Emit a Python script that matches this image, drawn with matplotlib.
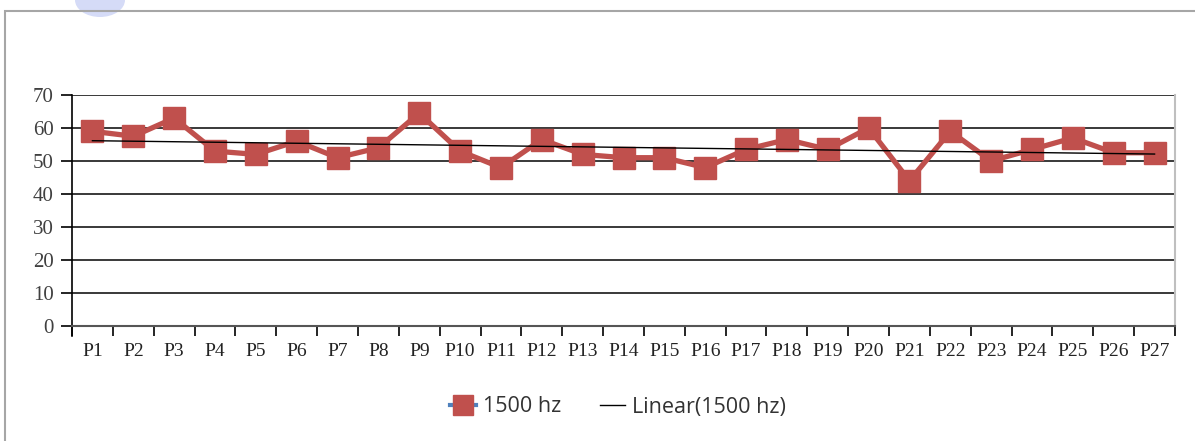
import numpy as np
import matplotlib
matplotlib.use('Agg')
import matplotlib.pyplot as plt
from matplotlib.lines import Line2D
from matplotlib.patches import Rectangle, Ellipse

# data
labels = ['P%d' % i for i in range(1, 28)]
values_1500 = [59, 57.5, 63, 53, 52, 56, 51, 54, 64.5, 53, 48, 56.5, 52, 51, 51,
               48, 53.5, 56.5, 53.5, 60, 44, 59, 50, 53.5, 57, 52.5, 52.5]
y_ticks = [0, 10, 20, 30, 40, 50, 60, 70]

red = '#C0504D'
serif = ['Liberation Serif', 'DejaVu Serif']
sans = ['Open Sans', 'DejaVu Sans']

fig = plt.figure(figsize=(11.95, 4.41), dpi=100)

# outer frame of the chart area
fig.patches.append(Rectangle((5 / 1195, -0.05), 1.2, 1 - 11 / 441 + 0.05,
                             transform=fig.transFigure, fill=False,
                             edgecolor='#A6A6A6', linewidth=1.5))
# faint blob peeking in at the top
fig.patches.append(Ellipse((100 / 1195, 1.0), 50 / 1195, 34 / 441,
                           transform=fig.transFigure, facecolor='#D5DBF7',
                           edgecolor='none', zorder=0))

ax = fig.add_axes([72 / 1195, 1 - 326 / 441, (1175 - 72) / 1195, (326 - 95) / 441])

x = np.arange(1, len(values_1500) + 1)
ax.plot(x, values_1500, color=red, linewidth=3.8, marker='s', markersize=16,
        markerfacecolor=red, markeredgecolor=red, zorder=3)

# linear trend line
k, b = np.polyfit(x, values_1500, 1)
ax.plot(x, k * x + b, color='black', linewidth=1.0, zorder=4)

ax.set_xlim(0.5, len(values_1500) + 0.5)
ax.set_ylim(0, 70)
ax.set_yticks(y_ticks)
ax.set_yticklabels([str(v) for v in y_ticks], family=serif, fontsize=15, color='#404040')
ax.set_xticks(x)
ax.set_xticklabels(labels, family=serif, fontsize=14, color='#222222')
ax.set_xticks(np.arange(0.5, len(values_1500) + 1), minor=True)
ax.tick_params(axis='x', which='major', length=0, pad=12)
ax.tick_params(axis='x', which='minor', length=7, width=1.2, direction='out', color='black')
ax.tick_params(axis='y', which='major', length=8, width=1.2, direction='out', pad=5, color='black')

for v in y_ticks[1:]:
    ax.axhline(v, color='#2a2a2a', linewidth=1.3, zorder=1)

ax.spines['top'].set_visible(False)
ax.spines['right'].set_color('#BFBFBF')
ax.spines['right'].set_linewidth(1.5)
ax.spines['left'].set_color('black')
ax.spines['left'].set_linewidth(1.2)
ax.spines['left'].set_bounds(-3, 70)
ax.spines['bottom'].set_color('#555555')
ax.spines['bottom'].set_linewidth(1.5)

handles = [
    Line2D([], [], color='#4F81BD', linewidth=3, marker='s', markersize=15,
           markerfacecolor=red, markeredgecolor=red),
    Line2D([], [], color='black', linewidth=1.0),
]
leg = fig.legend(handles, ['1500 hz', 'Linear(1500 hz)'], loc='center',
                 bbox_to_anchor=(618 / 1195, 1 - 407 / 441), ncol=2, frameon=False,
                 prop={'family': sans, 'size': 15.5}, handlelength=1.2,
                 handletextpad=0.3, columnspacing=1.8)
for t in leg.get_texts():
    t.set_color('#333333')

fig.savefig('out.png', dpi=100)
